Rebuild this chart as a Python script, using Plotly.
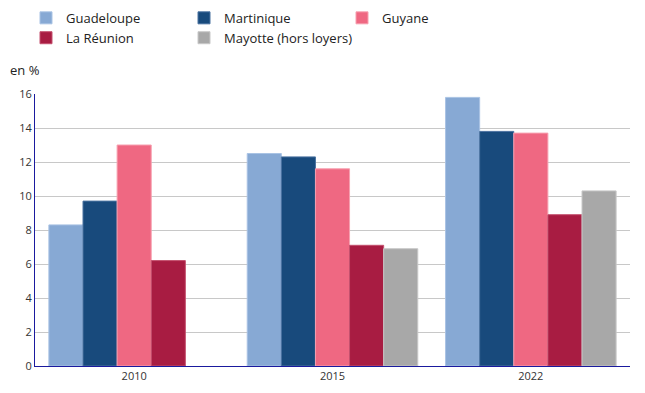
import plotly.graph_objects as go

years = ["2010", "2015", "2022"]
series = ["Guadeloupe", "Martinique", "Guyane", "La Réunion", "Mayotte (hors loyers)"]
guadeloupe = [8.3, 12.5, 15.8]
martinique = [9.7, 12.3, 13.8]
guyane = [13.0, 11.6, 13.7]
reunion = [6.2, 7.1, 8.9]
mayotte = [None, 6.9, 10.3]
values = [guadeloupe, martinique, guyane, reunion, mayotte]
colors = ["#87a9d4", "#184a7c", "#ef6882", "#a81c42", "#a8a8a8"]
outlines = ["#a9c3e4", "#4a72a0", "#f7a0b0", "#c4506e", "#c8c8c8"]
y_ticks = [0, 2, 4, 6, 8, 10, 12, 14, 16]

fig = go.Figure()
for name, vals, c, oc in zip(series, values, colors, outlines):
    fig.add_trace(go.Bar(x=years, y=vals, name=name, marker=dict(color=c, line=dict(color=oc, width=1))))

fig.update_layout(
    width=645, height=393,
    margin=dict(l=27, r=23, t=86, b=35, autoexpand=False),
    paper_bgcolor="white", plot_bgcolor="white",
    font=dict(family="Open Sans", size=11, color="#333"),
    barmode="group", bargap=0.14, bargroupgap=0,
    legend=dict(orientation="h", x=-0.0151, xanchor="left",
                y=1.335, yanchor="top", bgcolor="rgba(0,0,0,0)",
                entrywidth=113, font=dict(size=13, color="#222"), traceorder="normal",
                itemclick=False),
    xaxis=dict(showline=True, linecolor="#1a1a9e", linewidth=1, ticks="", tickfont=dict(size=11, color="#333")),
    yaxis=dict(range=[0, 16], tickvals=y_ticks, showgrid=True, gridcolor="#c8c8c8", gridwidth=1,
               showline=True, linecolor="#1a1a9e", linewidth=1, ticks="", zeroline=False,
               tickfont=dict(size=11, color="#333")),
    annotations=[dict(text="en %", xref="paper", yref="paper", x=-0.0454, y=1.088, xanchor="left",
                      yanchor="middle", showarrow=False, font=dict(size=13, color="#222"))],
)
fig.write_html("out.html")
